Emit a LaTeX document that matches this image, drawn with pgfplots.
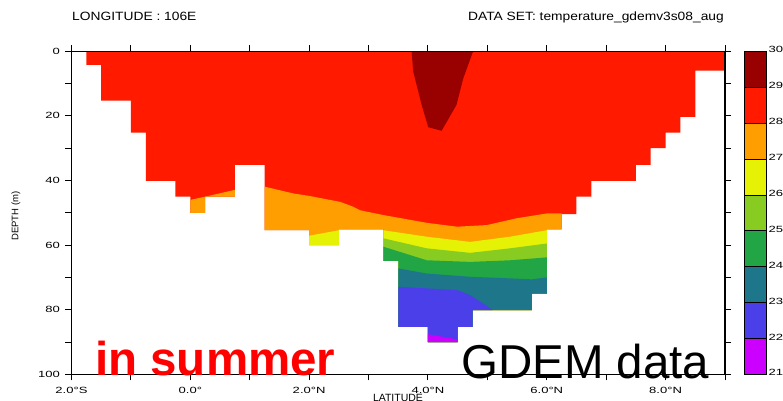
\documentclass[border=0pt]{standalone}
\usepackage{pgfplots}
\pgfplotsset{compat=1.18}
\usepackage{fontspec}
\setmainfont{Liberation Sans}
\newfontfamily\tickfont[FakeStretch=1.45]{Liberation Sans}
\newfontfamily\titlefont[FakeStretch=1.15]{Liberation Sans}

% temperature classes (degC)
\definecolor{c29}{RGB}{153,0,0}
\definecolor{c28}{RGB}{255,26,0}
\definecolor{c27}{RGB}{255,158,0}
\definecolor{c26}{RGB}{229,242,5}
\definecolor{c25}{RGB}{136,204,34}
\definecolor{c24}{RGB}{34,165,68}
\definecolor{c23}{RGB}{30,118,138}
\definecolor{c22}{RGB}{74,63,232}
\definecolor{c21}{RGB}{204,0,255}

\begin{document}
\begin{tikzpicture}
\useasboundingbox (0,0) rectangle (783bp,401bp);

% ---- depth / latitude section ----
\begin{axis}[
  at={(71.5bp,26.7bp)}, anchor=south west,
  scale only axis, width=653.5bp, height=323bp,
  xmin=-2, xmax=9, ymin=0, ymax=100, y dir=reverse,
  axis on top,
  /pgf/number format/assume math mode=true,
  xtick={-2,...,9},
  xticklabels={{2.0°S},,{0.0°},,{2.0°N},,{4.0°N},,{6.0°N},,{8.0°N},},
  ytick={0,10,...,100},
  yticklabels={0,,20,,40,,60,,80,,100},
  tick align=outside,
  major tick length=6bp,
  tick style={black, line width=1bp},
  axis line style={line width=1.1bp},
  tick label style={font=\tickfont\fontsize{9bp}{9bp}\selectfont},
  xticklabel style={yshift=-3bp},
  yticklabel style={xshift=-2bp},
]
% water column, 28-29 degC everywhere first
\addplot[fill=c28, draw=none] coordinates {
 (-1.75,0) (9,0) (9,6) (8.5,6) (8.5,20.3) (8.25,20.3) (8.25,25.2) (8,25.2)
 (8,30) (7.75,30) (7.75,35.2) (7.5,35.2) (7.5,40.1) (6.75,40.1) (6.75,45)
 (6.5,45) (6.5,50.4) (6.25,50.4) (6.25,55.1) (6,55.1) (6,75) (5.75,75)
 (5.75,80.1) (4.75,80.1) (4.75,85.3) (4.5,85.3) (4.5,90) (4,90) (4,85.3)
 (3.5,85.3) (3.5,64.9) (3.25,64.9) (3.25,55.1) (2.5,55.1) (2.5,60) (2,60)
 (2,55.4) (1.25,55.4) (1.25,35.2) (0.75,35.2) (0.75,45) (0.25,45) (0.25,50)
 (0,50) (0,45) (-0.25,45) (-0.25,40.1) (-0.75,40.1) (-0.75,25.2) (-1,25.2)
 (-1,15.3) (-1.5,15.3) (-1.5,4.2) (-1.75,4.2)};
% 29-30 degC core
\addplot[fill=c29, draw=none] coordinates {
 (3.725,0) (3.752,6.3) (3.894,16.6) (4.005,23.5) (4.23,24.6) (4.48,16.6)
 (4.594,8.4) (4.76,0)};
% 27-28 degC
\addplot[fill=c27, draw=none] coordinates {
 (0,46.0) (0.25,45.0) (0.75,42.9) (0.75,45) (0.25,45) (0.25,50) (0,50)};
\addplot[fill=c27, draw=none] coordinates {
 (1.25,41.9) (1.733,44.0) (2.01,44.8) (2.52,46.6) (2.74,48.1) (2.855,49.2)
 (3.25,50.7) (3.98,53.1) (4.49,54.3) (4.99,53.8) (5.49,51.7) (6.0,50.2)
 (6.25,50.2) (6.25,55.1) (6,55.1) (6,75) (5.75,75) (5.75,80.1) (4.75,80.1)
 (4.75,85.3) (4.5,85.3) (4.5,90) (4,90) (4,85.3) (3.5,85.3) (3.5,64.9)
 (3.25,64.9) (3.25,55.1) (2.5,55.1) (2.5,60) (2,60) (2,55.4) (1.25,55.4)};
% 26-27 degC
\addplot[fill=c26, draw=none] coordinates {
 (2.0,57.1) (2.5,55.4) (2.5,60) (2.0,60)};
\addplot[fill=c26, draw=none] coordinates {
 (3.25,55.4) (3.98,57.4) (4.71,59.0) (5.38,57.4) (6.0,55.4) (6,75) (5.75,75)
 (5.75,80.1) (4.75,80.1) (4.75,85.3) (4.5,85.3) (4.5,90) (4,90) (4,85.3)
 (3.5,85.3) (3.5,64.9) (3.25,64.9)};
% 25-26 degC
\addplot[fill=c25, draw=none] coordinates {
 (3.25,57.9) (3.98,61.0) (4.71,62.4) (5.38,61.0) (6.0,59.5) (6,75) (5.75,75)
 (5.75,80.1) (4.75,80.1) (4.75,85.3) (4.5,85.3) (4.5,90) (4,90) (4,85.3)
 (3.5,85.3) (3.5,64.9) (3.25,64.9)};
% 24-25 degC
\addplot[fill=c24, draw=none] coordinates {
 (3.25,60.5) (3.98,64.7) (4.71,65.2) (5.38,64.7) (6.0,63.8) (6,75) (5.75,75)
 (5.75,80.1) (4.75,80.1) (4.75,85.3) (4.5,85.3) (4.5,90) (4,90) (4,85.3)
 (3.5,85.3) (3.5,64.9) (3.25,64.9)};
% 23-24 degC
\addplot[fill=c23, draw=none] coordinates {
 (3.5,67.2) (3.98,68.8) (4.71,69.8) (5.38,70.3) (5.75,70.6) (6.0,70.0)
 (6,75) (5.75,75) (5.75,80.1) (4.75,80.1) (4.75,85.3) (4.5,85.3) (4.5,90)
 (4,90) (4,85.3) (3.5,85.3)};
% 22-23 degC
\addplot[fill=c22, draw=none] coordinates {
 (3.5,72.9) (3.98,73.4) (4.49,73.9) (4.71,75.5) (4.93,78.1) (5.09,80.1)
 (4.75,80.1) (4.75,85.3) (4.5,85.3) (4.5,90) (4,90) (4,85.3) (3.5,85.3)};
% 21-22 degC
\addplot[fill=c21, draw=none] coordinates {
 (4,87.6) (4.5,89.2) (4.5,90) (4,90)};
\end{axis}

% ---- colour key ----
\begin{axis}[
  at={(744bp,26.7bp)}, anchor=south west,
  scale only axis, width=22bp, height=323bp,
  xmin=0, xmax=1, ymin=21, ymax=30,
  axis on top,
  /pgf/number format/assume math mode=true,
  xtick=\empty,
  ytick={21,...,30},
  yticklabel pos=right,
  ytick style={draw=none},
  axis line style={line width=0.9bp},
  tick label style={font=\tickfont\fontsize{9bp}{9bp}\selectfont},
  yticklabel style={xshift=-1bp, yshift=1.5bp},
]
\addplot[fill=c21, draw=black, line width=0.7bp] coordinates {(0,21) (1,21) (1,22) (0,22)} -- cycle;
\addplot[fill=c22, draw=black, line width=0.7bp] coordinates {(0,22) (1,22) (1,23) (0,23)} -- cycle;
\addplot[fill=c23, draw=black, line width=0.7bp] coordinates {(0,23) (1,23) (1,24) (0,24)} -- cycle;
\addplot[fill=c24, draw=black, line width=0.7bp] coordinates {(0,24) (1,24) (1,25) (0,25)} -- cycle;
\addplot[fill=c25, draw=black, line width=0.7bp] coordinates {(0,25) (1,25) (1,26) (0,26)} -- cycle;
\addplot[fill=c26, draw=black, line width=0.7bp] coordinates {(0,26) (1,26) (1,27) (0,27)} -- cycle;
\addplot[fill=c27, draw=black, line width=0.7bp] coordinates {(0,27) (1,27) (1,28) (0,28)} -- cycle;
\addplot[fill=c28, draw=black, line width=0.7bp] coordinates {(0,28) (1,28) (1,29) (0,29)} -- cycle;
\addplot[fill=c29, draw=black, line width=0.7bp] coordinates {(0,29) (1,29) (1,30) (0,30)} -- cycle;
\end{axis}

% ---- labels ----
\node[anchor=base west, inner sep=0, font=\titlefont\fontsize{12bp}{12bp}\selectfont]
  at (72bp,380bp) {LONGITUDE : 106E};
\node[anchor=base east, inner sep=0, font=\titlefont\fontsize{12bp}{12bp}\selectfont]
  at (724bp,380bp) {DATA SET: temperature\_gdemv3s08\_aug};
\node[rotate=90, inner sep=0, font=\fontsize{9.5bp}{9.5bp}\selectfont]
  at (16bp,185bp) {DEPTH (m)};
\node[anchor=north, inner sep=0, font=\fontsize{10.5bp}{10.5bp}\selectfont]
  at (398bp,6.5bp) {LATITUDE};
\node[anchor=base west, inner sep=0, text=red, font=\bfseries\fontsize{47.5bp}{47.5bp}\selectfont]
  at (95bp,26bp) {in summer};
\node[anchor=base west, inner sep=0, font=\fontsize{47.5bp}{47.5bp}\selectfont]
  at (461bp,23bp) {GDEM data};
\end{tikzpicture}
\end{document}
